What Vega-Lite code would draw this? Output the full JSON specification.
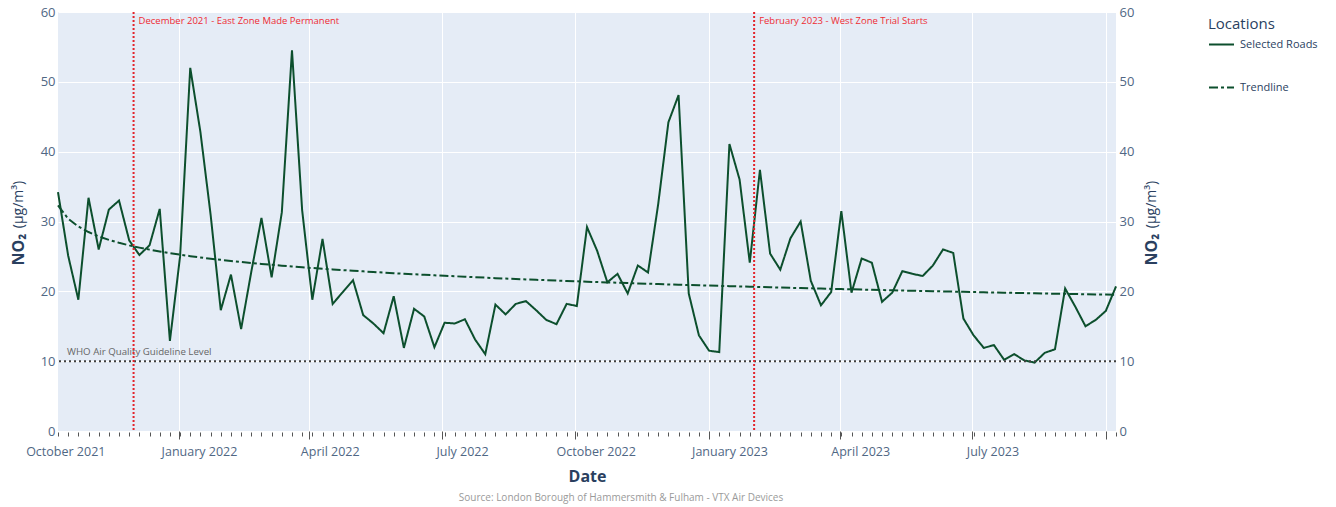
{
  "$schema": "https://vega.github.io/schema/vega-lite/v6.json",
  "width": 1058,
  "height": 419,
  "autosize": "none",
  "padding": {"left": 58, "top": 12, "right": 220, "bottom": 76},
  "background": "white",
  "config": {
    "font": "Open Sans",
    "view": {"fill": "#E5ECF6", "stroke": null}
  },
  "title": {
    "text": "Source: London Borough of Hammersmith & Fulham - VTX Air Devices",
    "orient": "bottom",
    "anchor": "middle",
    "fontSize": 10,
    "fontWeight": "normal",
    "color": "#9a9a9a",
    "offset": 9,
    "dx": 34
  },
  "datasets": {
    "no2": [
      {"date": "2021-10-10", "value": 34.2, "trend": 32.30},
      {"date": "2021-10-17", "value": 25.1, "trend": 30.39},
      {"date": "2021-10-24", "value": 18.8, "trend": 29.28},
      {"date": "2021-10-31", "value": 33.4, "trend": 28.49},
      {"date": "2021-11-07", "value": 26.0, "trend": 27.87},
      {"date": "2021-11-14", "value": 31.7, "trend": 27.37},
      {"date": "2021-11-21", "value": 33.0, "trend": 26.95},
      {"date": "2021-11-28", "value": 27.3, "trend": 26.58},
      {"date": "2021-12-05", "value": 25.2, "trend": 26.26},
      {"date": "2021-12-12", "value": 26.6, "trend": 25.97},
      {"date": "2021-12-19", "value": 31.8, "trend": 25.71},
      {"date": "2021-12-26", "value": 12.9, "trend": 25.47},
      {"date": "2022-01-02", "value": 25.0, "trend": 25.25},
      {"date": "2022-01-09", "value": 52.0, "trend": 25.04},
      {"date": "2022-01-16", "value": 42.8, "trend": 24.85},
      {"date": "2022-01-23", "value": 31.0, "trend": 24.67},
      {"date": "2022-01-30", "value": 17.3, "trend": 24.51},
      {"date": "2022-02-06", "value": 22.4, "trend": 24.35},
      {"date": "2022-02-13", "value": 14.6, "trend": 24.20},
      {"date": "2022-02-20", "value": 22.8, "trend": 24.06},
      {"date": "2022-02-27", "value": 30.5, "trend": 23.93},
      {"date": "2022-03-06", "value": 22.0, "trend": 23.80},
      {"date": "2022-03-13", "value": 31.3, "trend": 23.68},
      {"date": "2022-03-20", "value": 54.5, "trend": 23.56},
      {"date": "2022-03-27", "value": 31.6, "trend": 23.45},
      {"date": "2022-04-03", "value": 18.8, "trend": 23.34},
      {"date": "2022-04-10", "value": 27.5, "trend": 23.24},
      {"date": "2022-04-17", "value": 18.2, "trend": 23.14},
      {"date": "2022-04-24", "value": 19.9, "trend": 23.04},
      {"date": "2022-05-01", "value": 21.6, "trend": 22.95},
      {"date": "2022-05-08", "value": 16.6, "trend": 22.86},
      {"date": "2022-05-15", "value": 15.4, "trend": 22.77},
      {"date": "2022-05-22", "value": 14.0, "trend": 22.68},
      {"date": "2022-05-29", "value": 19.3, "trend": 22.60},
      {"date": "2022-06-05", "value": 11.9, "trend": 22.52},
      {"date": "2022-06-12", "value": 17.5, "trend": 22.44},
      {"date": "2022-06-19", "value": 16.4, "trend": 22.37},
      {"date": "2022-06-26", "value": 12.0, "trend": 22.30},
      {"date": "2022-07-03", "value": 15.5, "trend": 22.22},
      {"date": "2022-07-10", "value": 15.4, "trend": 22.16},
      {"date": "2022-07-17", "value": 16.0, "trend": 22.09},
      {"date": "2022-07-24", "value": 13.1, "trend": 22.02},
      {"date": "2022-07-31", "value": 11.0, "trend": 21.96},
      {"date": "2022-08-07", "value": 18.1, "trend": 21.89},
      {"date": "2022-08-14", "value": 16.7, "trend": 21.83},
      {"date": "2022-08-21", "value": 18.2, "trend": 21.77},
      {"date": "2022-08-28", "value": 18.6, "trend": 21.71},
      {"date": "2022-09-04", "value": 17.3, "trend": 21.65},
      {"date": "2022-09-11", "value": 15.9, "trend": 21.60},
      {"date": "2022-09-18", "value": 15.3, "trend": 21.54},
      {"date": "2022-09-25", "value": 18.2, "trend": 21.49},
      {"date": "2022-10-02", "value": 17.9, "trend": 21.43},
      {"date": "2022-10-09", "value": 29.2, "trend": 21.38},
      {"date": "2022-10-16", "value": 25.8, "trend": 21.33},
      {"date": "2022-10-23", "value": 21.3, "trend": 21.28},
      {"date": "2022-10-30", "value": 22.5, "trend": 21.23},
      {"date": "2022-11-06", "value": 19.7, "trend": 21.18},
      {"date": "2022-11-13", "value": 23.7, "trend": 21.13},
      {"date": "2022-11-20", "value": 22.7, "trend": 21.09},
      {"date": "2022-11-27", "value": 32.5, "trend": 21.04},
      {"date": "2022-12-04", "value": 44.2, "trend": 20.99},
      {"date": "2022-12-11", "value": 48.1, "trend": 20.95},
      {"date": "2022-12-18", "value": 19.7, "trend": 20.91},
      {"date": "2022-12-25", "value": 13.7, "trend": 20.86},
      {"date": "2023-01-01", "value": 11.5, "trend": 20.82},
      {"date": "2023-01-08", "value": 11.3, "trend": 20.78},
      {"date": "2023-01-15", "value": 41.1, "trend": 20.74},
      {"date": "2023-01-22", "value": 36.0, "trend": 20.70},
      {"date": "2023-01-29", "value": 24.1, "trend": 20.66},
      {"date": "2023-02-05", "value": 37.4, "trend": 20.62},
      {"date": "2023-02-12", "value": 25.4, "trend": 20.58},
      {"date": "2023-02-19", "value": 23.1, "trend": 20.54},
      {"date": "2023-02-26", "value": 27.6, "trend": 20.50},
      {"date": "2023-03-05", "value": 30.0, "trend": 20.46},
      {"date": "2023-03-12", "value": 21.5, "trend": 20.43},
      {"date": "2023-03-19", "value": 18.0, "trend": 20.39},
      {"date": "2023-03-26", "value": 19.9, "trend": 20.35},
      {"date": "2023-04-02", "value": 31.5, "trend": 20.32},
      {"date": "2023-04-09", "value": 19.8, "trend": 20.29},
      {"date": "2023-04-16", "value": 24.7, "trend": 20.25},
      {"date": "2023-04-23", "value": 24.1, "trend": 20.22},
      {"date": "2023-04-30", "value": 18.5, "trend": 20.18},
      {"date": "2023-05-07", "value": 19.8, "trend": 20.15},
      {"date": "2023-05-14", "value": 22.9, "trend": 20.12},
      {"date": "2023-05-21", "value": 22.5, "trend": 20.08},
      {"date": "2023-05-28", "value": 22.2, "trend": 20.05},
      {"date": "2023-06-04", "value": 23.7, "trend": 20.02},
      {"date": "2023-06-11", "value": 26.0, "trend": 19.99},
      {"date": "2023-06-18", "value": 25.5, "trend": 19.96},
      {"date": "2023-06-25", "value": 16.1, "trend": 19.93},
      {"date": "2023-07-02", "value": 13.7, "trend": 19.90},
      {"date": "2023-07-09", "value": 11.9, "trend": 19.86},
      {"date": "2023-07-16", "value": 12.3, "trend": 19.83},
      {"date": "2023-07-23", "value": 10.2, "trend": 19.81},
      {"date": "2023-07-30", "value": 11.0, "trend": 19.78},
      {"date": "2023-08-06", "value": 10.1, "trend": 19.75},
      {"date": "2023-08-13", "value": 9.8, "trend": 19.72},
      {"date": "2023-08-20", "value": 11.2, "trend": 19.69},
      {"date": "2023-08-27", "value": 11.7, "trend": 19.66},
      {"date": "2023-09-03", "value": 20.4, "trend": 19.64},
      {"date": "2023-09-10", "value": 17.8, "trend": 19.61},
      {"date": "2023-09-17", "value": 15.0, "trend": 19.58},
      {"date": "2023-09-24", "value": 15.9, "trend": 19.55},
      {"date": "2023-10-01", "value": 17.2, "trend": 19.53},
      {"date": "2023-10-08", "value": 20.7, "trend": 19.50}
    ],
    "events": [
      {"date": "2021-12-01", "label": "December 2021 - East Zone Made Permanent"},
      {"date": "2023-02-01", "label": "February 2023 - West Zone Trial Starts"}
    ],
    "who": [
      {"date": "2021-10-10", "level": 10, "label": "WHO Air Quality Guideline Level"}
    ]
  },
  "resolve": {"axis": {"x": "independent", "y": "independent"}},
  "layer": [
    {
      "data": {"name": "no2"},
      "mark": {"type": "line", "strokeWidth": 2},
      "encoding": {
        "x": {
          "field": "date", "type": "temporal",
          "scale": {"type": "utc", "nice": false, "domain": [{"year": 2021, "month": 10, "date": 10, "utc": true}, {"year": 2023, "month": 10, "date": 8, "utc": true}]},
          "axis": {
            "orient": "bottom",
            "values": [
              {"year": 2021, "month": 10, "date": 15, "utc": true},
              {"year": 2022, "month": 1, "date": 15, "utc": true},
              {"year": 2022, "month": 4, "date": 15, "utc": true},
              {"year": 2022, "month": 7, "date": 15, "utc": true},
              {"year": 2022, "month": 10, "date": 15, "utc": true},
              {"year": 2023, "month": 1, "date": 15, "utc": true},
              {"year": 2023, "month": 4, "date": 15, "utc": true},
              {"year": 2023, "month": 7, "date": 15, "utc": true}
            ],
            "labelExpr": "utcFormat(datum.value, '%B %Y')",
            "ticks": false, "grid": false, "domain": false,
            "labelPadding": 20, "labelFlush": false, "labelOverlap": false, "labelBound": false,
            "labelFontSize": 12.5, "labelColor": "#506784", "labelBaseline": "middle",
            "title": "Date", "titleFontSize": 16, "titleFontWeight": "bold", "titleColor": "#2a3f5f",
            "titleY": 45, "titleBaseline": "middle"
          }
        },
        "y": {
          "field": "value", "type": "quantitative",
          "scale": {"domain": [0, 60], "nice": false},
          "axis": {
            "orient": "left", "values": [0, 10, 20, 30, 40, 50, 60],
            "grid": true, "gridColor": "white", "gridWidth": 1,
            "ticks": false, "domain": false, "labelPadding": 3,
            "labelFontSize": 13, "labelColor": "#506784",
            "title": "NO₂", "titleFontSize": 16, "titleFontWeight": "bold", "titleColor": "#2a3f5f",
            "titleAngle": -90, "titleX": -40, "titleY": 237, "titleAlign": "center", "titleBaseline": "middle"
          }
        },
        "color": {
          "datum": "Selected Roads", "type": "nominal",
          "scale": {"domain": ["Selected Roads", "Trendline"], "range": ["#0c4f2d", "#0c4f2d"]},
          "legend": {
            "title": "Locations", "orient": "none", "legendX": 1150, "legendY": 5,
            "titleFontSize": 15, "titleFontWeight": "normal", "titleColor": "#2a3f5f", "titlePadding": -1,
            "labelFontSize": 11, "labelColor": "#2a3f5f", "labelOffset": 5,
            "symbolType": "stroke", "symbolSize": 625, "symbolStrokeWidth": 2, "rowPadding": 24, "padding": 0
          }
        },
        "strokeDash": {
          "datum": "Selected Roads", "type": "nominal",
          "scale": {"domain": ["Selected Roads", "Trendline"], "range": [[1, 0], [9, 3, 3, 3]]},
          "legend": {
            "title": "Locations", "orient": "none", "legendX": 1150, "legendY": 5,
            "titleFontSize": 15, "titleFontWeight": "normal", "titleColor": "#2a3f5f", "titlePadding": -1,
            "labelFontSize": 11, "labelColor": "#2a3f5f", "labelOffset": 5,
            "symbolType": "stroke", "symbolSize": 625, "symbolStrokeWidth": 2, "rowPadding": 24, "padding": 0
          }
        }
      }
    },
    {
      "data": {"name": "no2"},
      "mark": {"type": "line", "strokeWidth": 2},
      "encoding": {
        "x": {
          "field": "date", "type": "temporal",
          "scale": {"type": "utc", "nice": false, "domain": [{"year": 2021, "month": 10, "date": 10, "utc": true}, {"year": 2023, "month": 10, "date": 8, "utc": true}]},
          "axis": {
            "orient": "bottom",
            "values": [
              {"year": 2022, "month": 1, "date": 1, "utc": true},
              {"year": 2022, "month": 4, "date": 1, "utc": true},
              {"year": 2022, "month": 7, "date": 1, "utc": true},
              {"year": 2022, "month": 10, "date": 1, "utc": true},
              {"year": 2023, "month": 1, "date": 1, "utc": true},
              {"year": 2023, "month": 4, "date": 1, "utc": true},
              {"year": 2023, "month": 7, "date": 1, "utc": true},
              {"year": 2023, "month": 10, "date": 1, "utc": true}
            ],
            "grid": true, "gridColor": "white", "gridWidth": 1,
            "ticks": true, "tickSize": 8, "tickColor": "#555", "tickWidth": 1,
            "labels": false, "domain": false, "title": null
          }
        },
        "y": {
          "field": "trend", "type": "quantitative",
          "scale": {"domain": [0, 60], "nice": false},
          "axis": {
            "orient": "left", "labels": false, "ticks": false, "domain": false, "grid": false,
            "title": "(µg/m³)", "titleFontSize": 14, "titleFontWeight": "normal", "titleColor": "#2a3f5f",
            "titleAngle": -90, "titleX": -40, "titleY": 192, "titleAlign": "center", "titleBaseline": "middle"
          }
        },
        "color": {"datum": "Trendline", "type": "nominal"},
        "strokeDash": {"datum": "Trendline", "type": "nominal"}
      }
    },
    {
      "data": {"name": "who"},
      "mark": {"type": "rule", "strokeDash": [2, 3], "strokeWidth": 2, "color": "#3f3f3f"},
      "encoding": {
        "y": {
          "field": "level", "type": "quantitative",
          "scale": {"domain": [0, 60], "nice": false},
          "axis": {
            "orient": "right", "values": [0, 10, 20, 30, 40, 50, 60],
            "grid": false, "ticks": false, "domain": false, "labelPadding": 3,
            "labelFontSize": 13, "labelColor": "#506784",
            "title": "NO₂", "titleFontSize": 16, "titleFontWeight": "bold", "titleColor": "#2a3f5f",
            "titleAngle": -90, "titleX": 35, "titleY": 237, "titleAlign": "center", "titleBaseline": "middle"
          }
        }
      }
    },
    {
      "data": {"name": "who"},
      "mark": {"type": "text", "align": "left", "baseline": "middle", "dx": 9, "dy": -9, "fontSize": 9.7, "color": "#666666"},
      "encoding": {
        "x": {
          "field": "date", "type": "temporal",
          "scale": {"type": "utc", "nice": false, "domain": [{"year": 2021, "month": 10, "date": 10, "utc": true}, {"year": 2023, "month": 10, "date": 8, "utc": true}]},
          "axis": {
            "orient": "bottom",
            "tickCount": {"interval": "week", "step": 1},
            "ticks": true, "tickSize": 4, "tickColor": "#555", "tickWidth": 1, "offset": 1,
            "labels": false, "grid": false, "domain": false, "title": null
          }
        },
        "y": {
          "field": "level", "type": "quantitative",
          "scale": {"domain": [0, 60], "nice": false},
          "axis": {
            "orient": "right", "labels": false, "ticks": false, "domain": false, "grid": false,
            "title": "(µg/m³)", "titleFontSize": 14, "titleFontWeight": "normal", "titleColor": "#2a3f5f",
            "titleAngle": -90, "titleX": 35, "titleY": 192, "titleAlign": "center", "titleBaseline": "middle"
          }
        },
        "text": {"field": "label"}
      }
    },
    {
      "data": {"name": "events"},
      "mark": {"type": "rule", "strokeDash": [2, 2], "strokeWidth": 2, "color": "#e3242b"},
      "encoding": {
        "x": {
          "field": "date", "type": "temporal",
          "scale": {"type": "utc", "nice": false, "domain": [{"year": 2021, "month": 10, "date": 10, "utc": true}, {"year": 2023, "month": 10, "date": 8, "utc": true}]},
          "axis": null
        }
      }
    },
    {
      "data": {"name": "events"},
      "mark": {"type": "text", "align": "left", "baseline": "middle", "dx": 5, "dy": 9, "fontSize": 9.5, "color": "#ee2b33"},
      "encoding": {
        "x": {
          "field": "date", "type": "temporal",
          "scale": {"type": "utc", "nice": false, "domain": [{"year": 2021, "month": 10, "date": 10, "utc": true}, {"year": 2023, "month": 10, "date": 8, "utc": true}]},
          "axis": null
        },
        "y": {"datum": 60, "type": "quantitative", "scale": {"domain": [0, 60], "nice": false}, "axis": null},
        "text": {"field": "label"}
      }
    }
  ]
}
